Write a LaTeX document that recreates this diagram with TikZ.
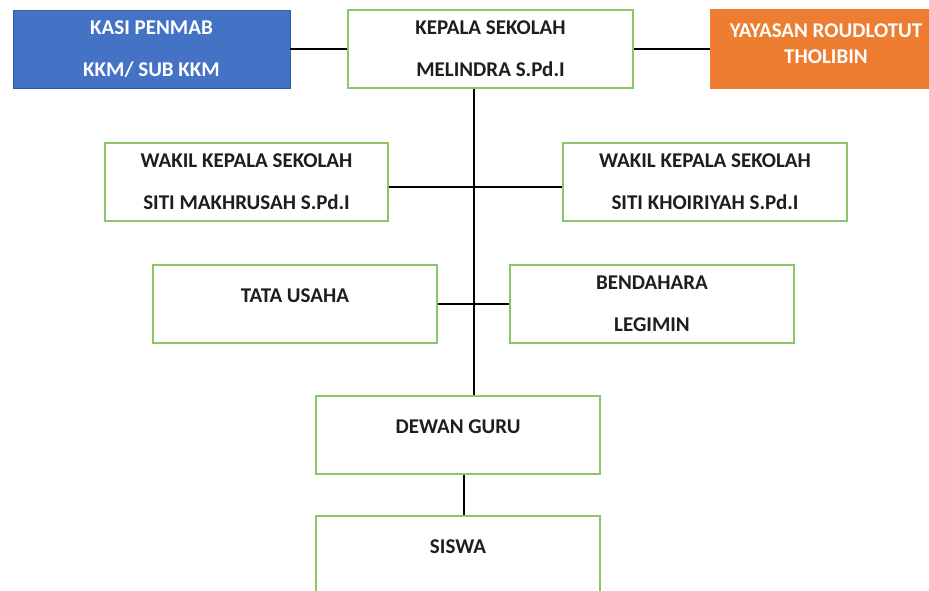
\documentclass[tikz,border=0pt]{standalone}
\usepackage{fontspec}
\setmainfont{Carlito}
\usepackage{xcolor}
\usepackage{tikz}
\definecolor{boxgreen}{RGB}{141,198,106}
\definecolor{kasiblue}{RGB}{68,114,196}
\definecolor{kasiedge}{RGB}{52,92,166}
\definecolor{yayorange}{RGB}{237,125,49}
\definecolor{textdark}{RGB}{30,30,30}

\tikzset{
    orgbox/.style={draw=boxgreen, line width=1.3pt, fill=white, inner sep=0pt,
        minimum height=78pt, align=center, text=textdark,
        font=\bfseries\fontsize{21}{24}\selectfont},
    onebox/.style={orgbox, align=none, text height=12pt, text depth=14.5pt},
    link/.style={black, line width=1.2pt}
}

\begin{document}
\begin{tikzpicture}[x=1pt, y=-1pt]
    \useasboundingbox (0,0) rectangle (929,591);

    % Top row
    \node[orgbox, minimum width=277pt, fill=kasiblue, draw=kasiedge, line width=0.8pt, text=white]
        (kasi) at (151.5,49) {KASI PENMAB\\[18pt]KKM/ SUB KKM};
    \node[orgbox, minimum width=285pt] (kepala) at (490.5,49)
        {KEPALA SEKOLAH\\[18pt]MELINDRA S.Pd.I};
    \node[orgbox, minimum width=230pt, fill=yayorange, draw=yayorange, text=white]
        (yayasan) at (826,49) {YAYASAN ROUDLOTUT\\[2pt]THOLIBIN\\[-14pt]\mbox{}};

    % Wakil
    \node[orgbox, minimum width=283pt] (wakila) at (246.5,182)
        {WAKIL KEPALA SEKOLAH\\[18pt]SITI MAKHRUSAH S.Pd.I};
    \node[orgbox, minimum width=284pt] (wakilb) at (705,182)
        {WAKIL KEPALA SEKOLAH\\[18pt]SITI KHOIRIYAH S.Pd.I};

    % Staff
    \node[onebox, minimum width=284pt] (tata) at (295,304) {TATA USAHA};
    \node[orgbox, minimum width=284pt] (bendahara) at (652,304)
        {BENDAHARA\\[18pt]LEGIMIN};

    % Guru dan siswa
    \node[onebox, minimum width=284pt] (dewan) at (458,435) {DEWAN GURU};
    \node[onebox, minimum width=284pt] (siswa) at (458,555) {SISWA};

    % Lines
    \coordinate (spine) at (474,0);
    \draw[link] (kasi) -- (kepala);
    \draw[link] (kepala) -- (yayasan);
    \draw[link] (kepala.south -| spine) -- (dewan.north -| spine);
    \draw[link] ([yshift=-5pt]wakila.east) -- ([yshift=-5pt]wakilb.west);
    \draw[link] (tata) -- (bendahara);
    \draw[link] ([xshift=6pt]dewan.south) -- ([xshift=6pt]siswa.north);
\end{tikzpicture}
\end{document}
